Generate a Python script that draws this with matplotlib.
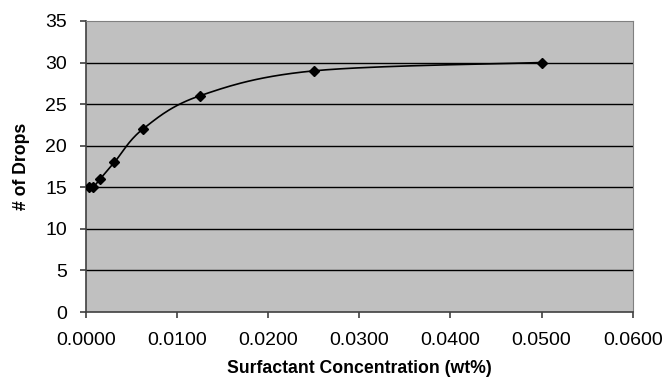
import numpy as np
import matplotlib.pyplot as plt

# surfactant concentration (wt%) and number of drops
conc = [0.000390625, 0.00078125, 0.0015625, 0.003125, 0.00625, 0.0125, 0.025, 0.05]
drops = [15, 15, 16, 18, 22, 26, 29, 30]

x_ticks = [0.0, 0.01, 0.02, 0.03, 0.04, 0.05, 0.06]
y_ticks = [0, 5, 10, 15, 20, 25, 30, 35]


def smooth_line(xs, ys, n=30):
    # Excel-style smoothed line: cubic bezier through each pair of points
    xs = np.asarray(xs, float)
    ys = np.asarray(ys, float)
    px, py = [], []
    for i in range(len(xs) - 1):
        x0, y0 = (xs[i - 1], ys[i - 1]) if i > 0 else (xs[i], ys[i])
        x3, y3 = (xs[i + 2], ys[i + 2]) if i + 2 < len(xs) else (xs[i + 1], ys[i + 1])
        c1 = (xs[i] + (xs[i + 1] - x0) / 6, ys[i] + (ys[i + 1] - y0) / 6)
        c2 = (xs[i + 1] - (x3 - xs[i]) / 6, ys[i + 1] - (y3 - ys[i]) / 6)
        t = np.linspace(0, 1, n)
        bx = (1 - t) ** 3 * xs[i] + 3 * (1 - t) ** 2 * t * c1[0] + 3 * (1 - t) * t ** 2 * c2[0] + t ** 3 * xs[i + 1]
        by = (1 - t) ** 3 * ys[i] + 3 * (1 - t) ** 2 * t * c1[1] + 3 * (1 - t) * t ** 2 * c2[1] + t ** 3 * ys[i + 1]
        px.extend(bx)
        py.extend(by)
    return px, py


plt.rcParams['font.family'] = ['Liberation Sans', 'DejaVu Sans']

fig = plt.figure(figsize=(6.66, 3.81), dpi=100)
ax = fig.add_axes([0.129, 0.181, 0.821, 0.764])
ax.set_facecolor('#C0C0C0')

for y in y_ticks[1:-1]:
    ax.axhline(y, color='black', lw=1, zorder=1)

sx, sy = smooth_line(conc, drops)
ax.plot(sx, sy, color='black', lw=1.2, zorder=3)
ax.plot(conc, drops, linestyle='none', marker='D', markersize=5.5, color='black', zorder=4)

ax.set_xlim(0, 0.06)
ax.set_ylim(0, 35)
ax.set_xticks(x_ticks)
ax.set_xticklabels([f'{v:.4f}' for v in x_ticks])
ax.set_yticks(y_ticks)
ax.tick_params(axis='both', labelsize=14, direction='out', length=4.5, width=1.2, color='#404040')
ax.tick_params(axis='x', pad=10)
ax.tick_params(axis='y', pad=9)

for side in ['top', 'right']:
    ax.spines[side].set_color('#808080')
for side in ['left', 'bottom']:
    ax.spines[side].set_color('#404040')
    ax.spines[side].set_linewidth(1.2)

ax.set_xlabel('Surfactant Concentration (wt%)', fontsize=12.7, fontweight='bold', labelpad=8)
ax.set_ylabel('# of Drops', fontsize=12.7, fontweight='bold', labelpad=11)

fig.savefig('out.png', dpi=100)
